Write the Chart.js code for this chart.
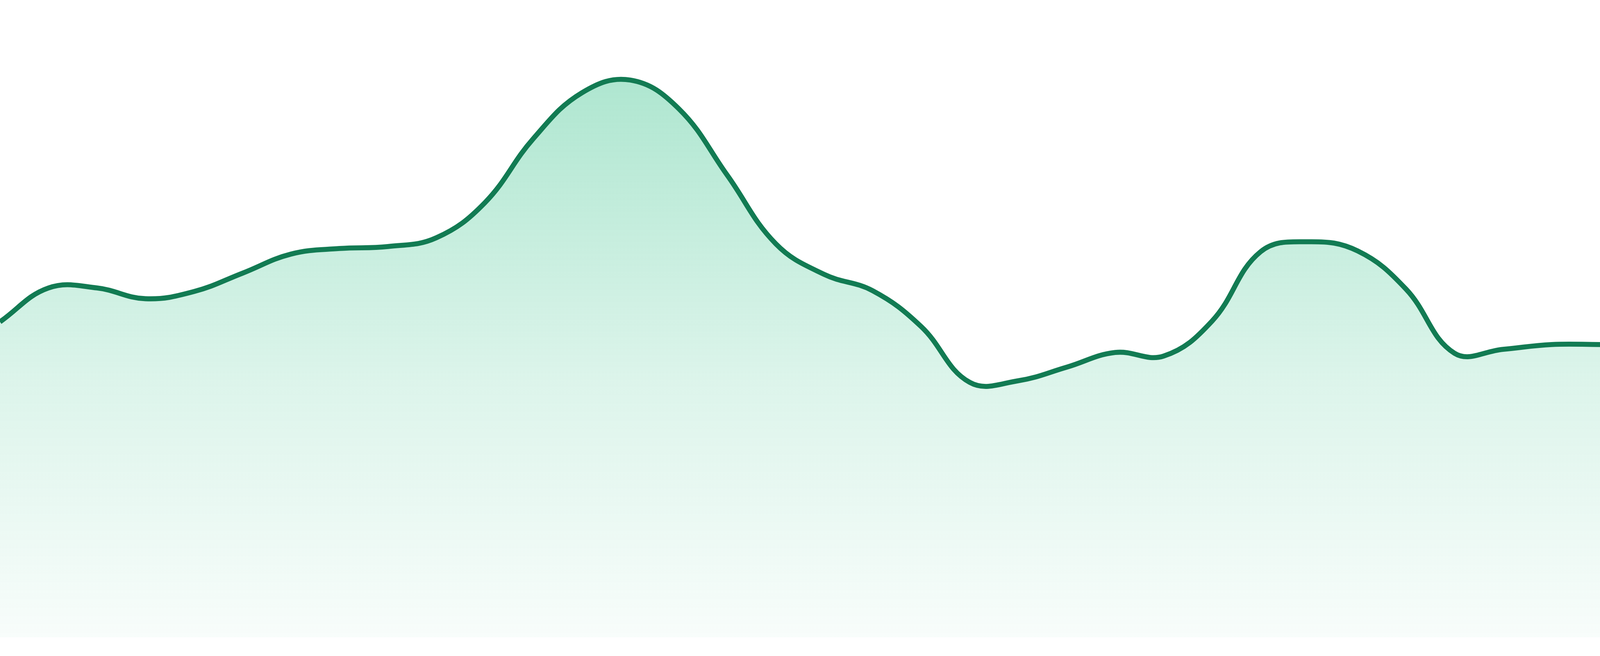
<!DOCTYPE html>
<html>
<head>
<meta charset="utf-8">
<script src="https://cdn.jsdelivr.net/npm/chart.js@4"></script>
<style>
  html, body { margin: 0; padding: 0; background: #ffffff; overflow: hidden; }
  #wrap { width: 100vw; height: 100vh; position: relative; }
</style>
</head>
<body>
<div id="wrap"><canvas id="trendChart"></canvas></div>
<script>
// one point per day
const days = [
  "D1", "D2", "D3", "D4", "D5", "D6", "D7", "D8", "D9", "D10",
  "D11", "D12", "D13", "D14", "D15", "D16", "D17", "D18", "D19", "D20",
  "D21", "D22", "D23", "D24", "D25", "D26", "D27", "D28", "D29", "D30",
  "D31", "D32", "D33", "D34",
];

const values = [
  79.2, 87.7, 87.7, 85.0, 86.8, 91.4, 96.2, 97.6, 98.1, 100.3,
  109.1, 125.2, 136.7, 139.9, 132.7, 116.0, 98.8, 91.1, 87.0, 78.0,
  64.0, 64.4, 67.8, 71.5, 70.6, 79.4, 96.8, 99.3, 97.0, 87.4,
  71.3, 72.3, 73.5, 73.5,
];

const yMin = 0;
const yMax = 160;

const lineColor = "rgb(18, 123, 83)";

document.addEventListener("DOMContentLoaded", function () {
  const ctx = document.getElementById("trendChart").getContext("2d");

  // soft green fade from top of the plot down to almost white
  const fillGradient = (context) => {
    const { chart } = context;
    const area = chart.chartArea;
    if (!area) return null;
    const g = chart.ctx.createLinearGradient(0, area.top, 0, area.bottom);
    g.addColorStop(0, "rgba(24, 184, 120, 0.40)");
    g.addColorStop(0.6, "rgba(24, 184, 120, 0.15)");
    g.addColorStop(1, "rgba(24, 184, 120, 0.03)");
    return g;
  };

  new Chart(ctx, {
    type: "line",
    data: {
      labels: days,
      datasets: [
        {
          data: values,
          borderColor: lineColor,
          // line and bottom gap scale with the window
          borderWidth: (c) => Math.max(2, c.chart.width * 15 / 4800),
          backgroundColor: fillGradient,
          fill: "start",
          tension: 0.4,
          pointRadius: 0,
          pointHoverRadius: 0,
        },
      ],
    },
    options: {
      responsive: true,
      maintainAspectRatio: false,
      animation: false,
      events: [],
      layout: {
        padding: (c) => ({ top: 0, right: 0, bottom: c.chart.height * 48 / 1680, left: 0 }),
      },
      plugins: {
        legend: { display: false },
        tooltip: { enabled: false },
      },
      scales: {
        x: {
          display: false,
          offset: false,
        },
        y: {
          display: false,
          min: yMin,
          max: yMax,
        },
      },
    },
  });
});
</script>
</body>
</html>
